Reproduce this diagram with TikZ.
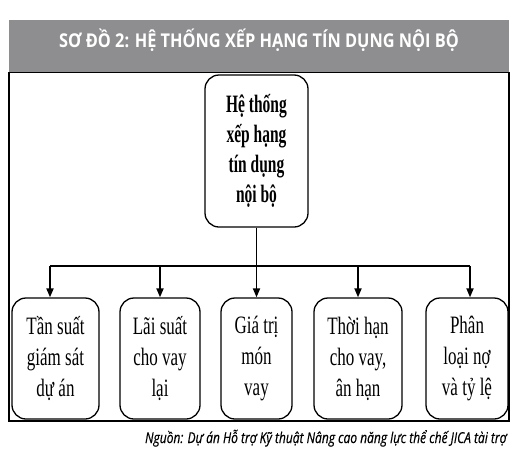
\documentclass[tikz,border=0pt]{standalone}
\usepackage{fontspec}
\usetikzlibrary{arrows.meta}
\newfontfamily\boxfont[FakeStretch=0.68]{Liberation Serif}
\newfontfamily\topfont[FakeStretch=0.62]{Liberation Serif}
\newfontfamily\titlefont[FakeStretch=0.86]{Open Sans}
\newfontfamily\srcfont[FakeStretch=0.8,FakeBold=0.4]{Open Sans}
\definecolor{bannergray}{HTML}{8E8E90}
\tikzset{
  frameline/.style={line width=1.3pt},
  itembox/.style={draw, line width=1.3pt, rounded corners=14pt, align=center, inner sep=0pt,
    font=\boxfont\fontsize{25}{31}\selectfont},
  topbox/.style={itembox, font=\topfont\bfseries\fontsize{25}{30}\selectfont},
  link/.style={line width=1.8pt},
  arrowlink/.style={link, -{Triangle[length=9pt,width=7pt]}}
}
\begin{document}
\begin{tikzpicture}[x=1pt,y=-1pt]
\useasboundingbox (0,0) rectangle (526,474);
\fill[bannergray] (9,20) rectangle (509,72);
\node[anchor=base, text=white, font=\titlefont\bfseries\fontsize{19}{19}\selectfont] (title) at (259,47) {SƠ ĐỒ 2: HỆ THỐNG XẾP HẠNG TÍN DỤNG NỘI BỘ};
\draw[frameline] (9,72.5) rectangle (509,421);
\node[topbox, minimum width=103pt, minimum height=152pt] (top) at (256.5,151) {Hệ thống\\xếp hạng\\tín dụng\\nội bộ};
\node[itembox, minimum width=87pt, minimum height=121pt] (b1) at (55.5,358.5) {Tần suất\\giám sát\\dự án};
\node[itembox, minimum width=80pt, minimum height=121pt] (b2) at (160,358.5) {Lãi suất\\cho vay\\lại};
\node[itembox, minimum width=71pt, minimum height=121pt] (b3) at (256.5,358.5) {Giá trị\\món\\vay};
\node[itembox, minimum width=88pt, minimum height=121pt] (b4) at (358,358.5) {Thời hạn\\cho vay,\\ân hạn};
\node[itembox, minimum width=82pt, minimum height=121pt] (b5) at (467,358.5) {Phân\\loại nợ\\và tỷ lệ};
\coordinate (busL) at (50,266);
\coordinate (busR) at (470,266);
\draw[link] (busL) -- (busR);
\draw[arrowlink] (top.south) -- (b3.north);
\draw[arrowlink] (busL) -- (busL |- b1.north);
\draw[arrowlink] (b2.north |- busL) -- (b2.north);
\draw[arrowlink] (b4.north |- busL) -- (b4.north);
\draw[arrowlink] (busR) -- (busR |- b5.north);
\node[anchor=base east, font=\srcfont\itshape\fontsize{15}{15}\selectfont] (source) at (510,443) {Nguồn: Dự án Hỗ trợ Kỹ thuật Nâng cao năng lực thể chế JICA tài trợ};
\end{tikzpicture}
\end{document}
